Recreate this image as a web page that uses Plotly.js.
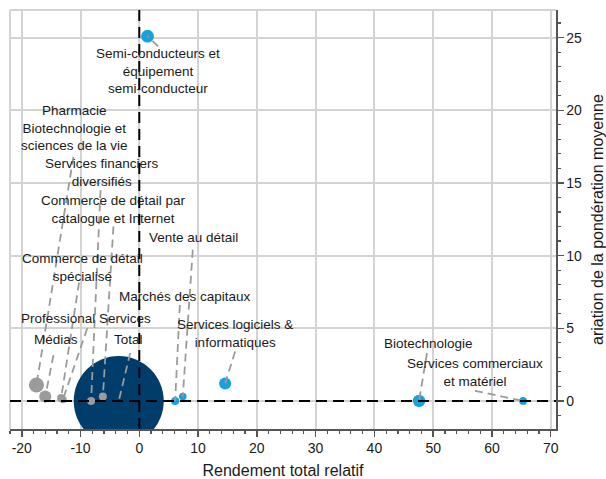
<!DOCTYPE html>
<html>
<head>
<meta charset="utf-8">
<script src="https://cdn.plot.ly/plotly-3.0.1.min.js"></script>
<style>
  html, body { margin: 0; padding: 0; background: #ffffff; }
  #chart { width: 606px; height: 479px; }
</style>
</head>
<body>
<div id="chart"></div>
<script>
// ---- Data ----
const secteurs = [
  'Total',
  'Semi-conducteurs et<br>équipement<br>semi-conducteur',
  'Pharmacie<br>Biotechnologie et<br>sciences de la vie',
  'Services financiers<br>diversifiés',
  'Commerce de détail par<br>catalogue et Internet',
  'Vente au détail',
  'Commerce de détail<br>spécialisé',
  'Marchés des capitaux',
  'Professional Services',
  'Services logiciels &<br>informatiques',
  'Médias',
  'Biotechnologie',
  'Services commerciaux<br>et matériel'
];
// Relative total return (x)
const rendement = [-3.5, 1.4, -17.5, -8.2, -6.2, 7.4, -13.3, 6.1, -13.0, 14.6, -16.0, 47.6, 65.3];
// Change in average weight (y)
const variation = [0.0, 25.1, 1.1, 0.0, 0.3, 0.3, 0.2, 0.0, 0.1, 1.2, 0.3, 0.0, 0.0];
// Bubble weight
const poids = [100, 2.0, 2.8, 0.8, 0.8, 0.7, 0.8, 0.8, 0.7, 1.8, 1.8, 1.9, 0.75];

// Label placement (data coordinates) and connector start points
const labelX = [-1.8, 3.1, -11.05, -6.4, -4.35, 9.25, -9.7, 7.8, -9.0, 16.35, -14.2, 49.15, 57.15];
const labelY = [4.2, 22.7, 18.75, 15.7, 13.2, 11.25, 9.15, 7.2, 5.7, 4.65, 4.2, 3.95, 1.95];
const lineX  = [-1.55, 3.2, -11.2, -6.6, -4.4, 9.1, -10.25, 6.9, -8.85, 16.3, -14.6, 48.95, 57.1];
const lineY  = [3.3, 24.4, 16.8, 14.5, 12.0, 10.4, 8.15, 6.6, 5.0, 3.4, 3.15, 3.3, 0.7];

const xTicks = [-20, -10, 0, 10, 20, 30, 40, 50, 60, 70];
const yTicks = [0, 5, 10, 15, 20, 25];

// ---- Styles ----
const GRIS = '#9b9b9b', BLEU = '#17a2de', MARINE = '#003d6b';
const FONT = 'Liberation Sans, Arial, Helvetica, sans-serif';
const couleurs = secteurs.map((s, i) => s === 'Total' ? MARINE : (rendement[i] < 0 ? GRIS : BLEU));

// Bubbles (Total first so the small bubbles sit on top)
const bulles = {
  type: 'scatter', mode: 'markers',
  x: rendement, y: variation,
  text: secteurs.map(s => s.replace(/<br>/g, ' ')),
  hoverinfo: 'text+x+y',
  marker: { size: poids, sizemode: 'area', sizeref: 50 / 2025, color: couleurs, opacity: 1, line: { width: 0 } },
  showlegend: false
};

// Dashed connectors from label to bubble
const cx = [], cy = [];
secteurs.forEach((s, i) => { cx.push(lineX[i], rendement[i], null); cy.push(lineY[i], variation[i], null); });
const liens = {
  type: 'scatter', mode: 'lines', x: cx, y: cy, hoverinfo: 'skip',
  line: { color: GRIS, width: 1.8, dash: '8px,5px' }, showlegend: false
};

const annotations = secteurs.map((s, i) => ({
  x: labelX[i], y: labelY[i], xref: 'x', yref: 'y', text: s, showarrow: false,
  xanchor: 'center', yanchor: 'middle', align: 'center', borderpad: 0,
  font: { family: FONT, size: 13.5, color: '#1a1a1a' }
}));

const axeCommun = {
  showgrid: true, gridcolor: '#d3d3d3', gridwidth: 2,
  zeroline: false, showline: true, linecolor: '#555555', linewidth: 1.5,
  ticks: 'outside', ticklen: 6, tickwidth: 1.5, tickcolor: '#555555',
  tickfont: { family: FONT, size: 14, color: '#1a1a1a' }
};

const layout = {
  width: 606, height: 479,
  margin: { l: 10, r: 50, t: 10, b: 50, pad: 0 },
  paper_bgcolor: '#ffffff', plot_bgcolor: '#ffffff',
  font: { family: FONT, color: '#1a1a1a' },
  showlegend: false,
  xaxis: Object.assign({}, axeCommun, {
    range: [-22, 70.9], tickmode: 'array', tickvals: xTicks, ticktext: xTicks.map(String),
    minor: { dtick: 2, tick0: 0, ticks: 'outside', ticklen: 3, tickwidth: 1.2, tickcolor: '#555555', showgrid: false },
    title: { text: 'Rendement total relatif', font: { family: FONT, size: 16, color: '#1a1a1a' }, standoff: 10 }
  }),
  yaxis: Object.assign({}, axeCommun, {
    side: 'right', range: [-1.93, 26.9], tickmode: 'array', tickvals: yTicks, ticktext: yTicks.map(String),
    minor: { dtick: 1, tick0: 0, ticks: 'outside', ticklen: 3, tickwidth: 1.2, tickcolor: '#555555', showgrid: false },
    title: { text: 'ariation de la pondération moyenne', font: { family: FONT, size: 16, color: '#1a1a1a' }, standoff: 12 }
  }),
  shapes: [
    { type: 'line', xref: 'paper', yref: 'paper', x0: 0, x1: 0, y0: 0, y1: 1, line: { color: '#d3d3d3', width: 2 }, layer: 'below' },
    { type: 'line', xref: 'paper', yref: 'paper', x0: 0, x1: 1, y0: 1, y1: 1, line: { color: '#d3d3d3', width: 2 }, layer: 'below' },
    { type: 'line', xref: 'x', yref: 'paper', x0: 0, x1: 0, y0: 0, y1: 1, line: { color: '#000000', width: 2, dash: '11px,6px' }, layer: 'above' },
    { type: 'line', xref: 'paper', yref: 'y', x0: 0, x1: 1, y0: 0, y1: 0, line: { color: '#000000', width: 2, dash: '11px,6px' }, layer: 'above' }
  ],
  annotations: annotations
};

Plotly.newPlot('chart', [bulles, liens], layout, { displayModeBar: false, staticPlot: true });
</script>
</body>
</html>
